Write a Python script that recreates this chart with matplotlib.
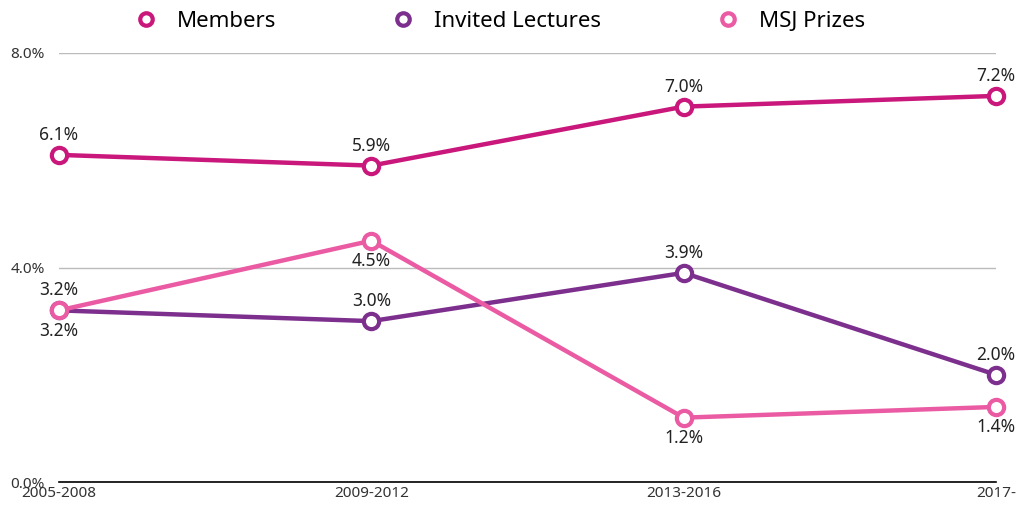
import matplotlib.pyplot as plt
from matplotlib.lines import Line2D

periods = ["2005-2008", "2009-2012", "2013-2016", "2017-"]
members = [6.1, 5.9, 7.0, 7.2]
lectures = [3.2, 3.0, 3.9, 2.0]
prizes = [3.2, 4.5, 1.2, 1.4]

series = [
    ("Members", members, "#C9177B", [1, 1, 1, 1]),
    ("Invited Lectures", lectures, "#7D2F8E", [1, 1, 1, 1]),
    ("MSJ Prizes", prizes, "#EA5BA3", [-1, -1, -1, -1]),
]

plt.rcParams['font.family'] = ['Noto Sans', 'DejaVu Sans']

fig = plt.figure(figsize=(10.2, 5.07), dpi=100)
ax = fig.add_axes([59 / 1020, 25 / 507, 937 / 1020, 429 / 507])

x = list(range(len(periods)))
handles = []
for name, vals, color, side in series:
    ax.plot(x, vals, color=color, linewidth=3.2, marker='o', markersize=11,
            markerfacecolor='white', markeredgecolor=color, markeredgewidth=3,
            clip_on=False, zorder=3)
    handles.append(Line2D([], [], linestyle='none', marker='o', markersize=9,
                          markerfacecolor='white', markeredgecolor=color,
                          markeredgewidth=3, label=name))
    for xi, v, s in zip(x, vals, side):
        off = 8 if s > 0 else -8
        ax.annotate(f"{v:.1f}%", (xi, v), xytext=(0, off), textcoords='offset points',
                    ha='center', va='bottom' if s > 0 else 'top', fontsize=12.5, color='#222222')

ax.set_xlim(0, 3)
ax.set_ylim(0, 8)
ax.set_yticks([0, 4, 8])
ax.set_yticklabels(["0.0%", "4.0%", "8.0%"], fontsize=11, color='#333333')
ax.set_xticks(x)
ax.set_xticklabels(periods, fontsize=11, color='#333333')
ax.tick_params(axis='both', length=0)
ax.tick_params(axis='x', pad=3)
ax.tick_params(axis='y', pad=10)
ax.grid(axis='y', color='#BBBBBB', linewidth=1)
ax.set_axisbelow(True)
for sp in ['top', 'right', 'left']:
    ax.spines[sp].set_visible(False)
ax.spines['bottom'].set_color('black')
ax.spines['bottom'].set_linewidth(1.2)

fig.legend(handles=handles, loc='upper center', bbox_to_anchor=(0.49, 1.018), ncol=3,
           frameon=False, fontsize=16, columnspacing=5.2, handlelength=1.0,
           handletextpad=0.9)

fig.savefig("out.png", dpi=100)
